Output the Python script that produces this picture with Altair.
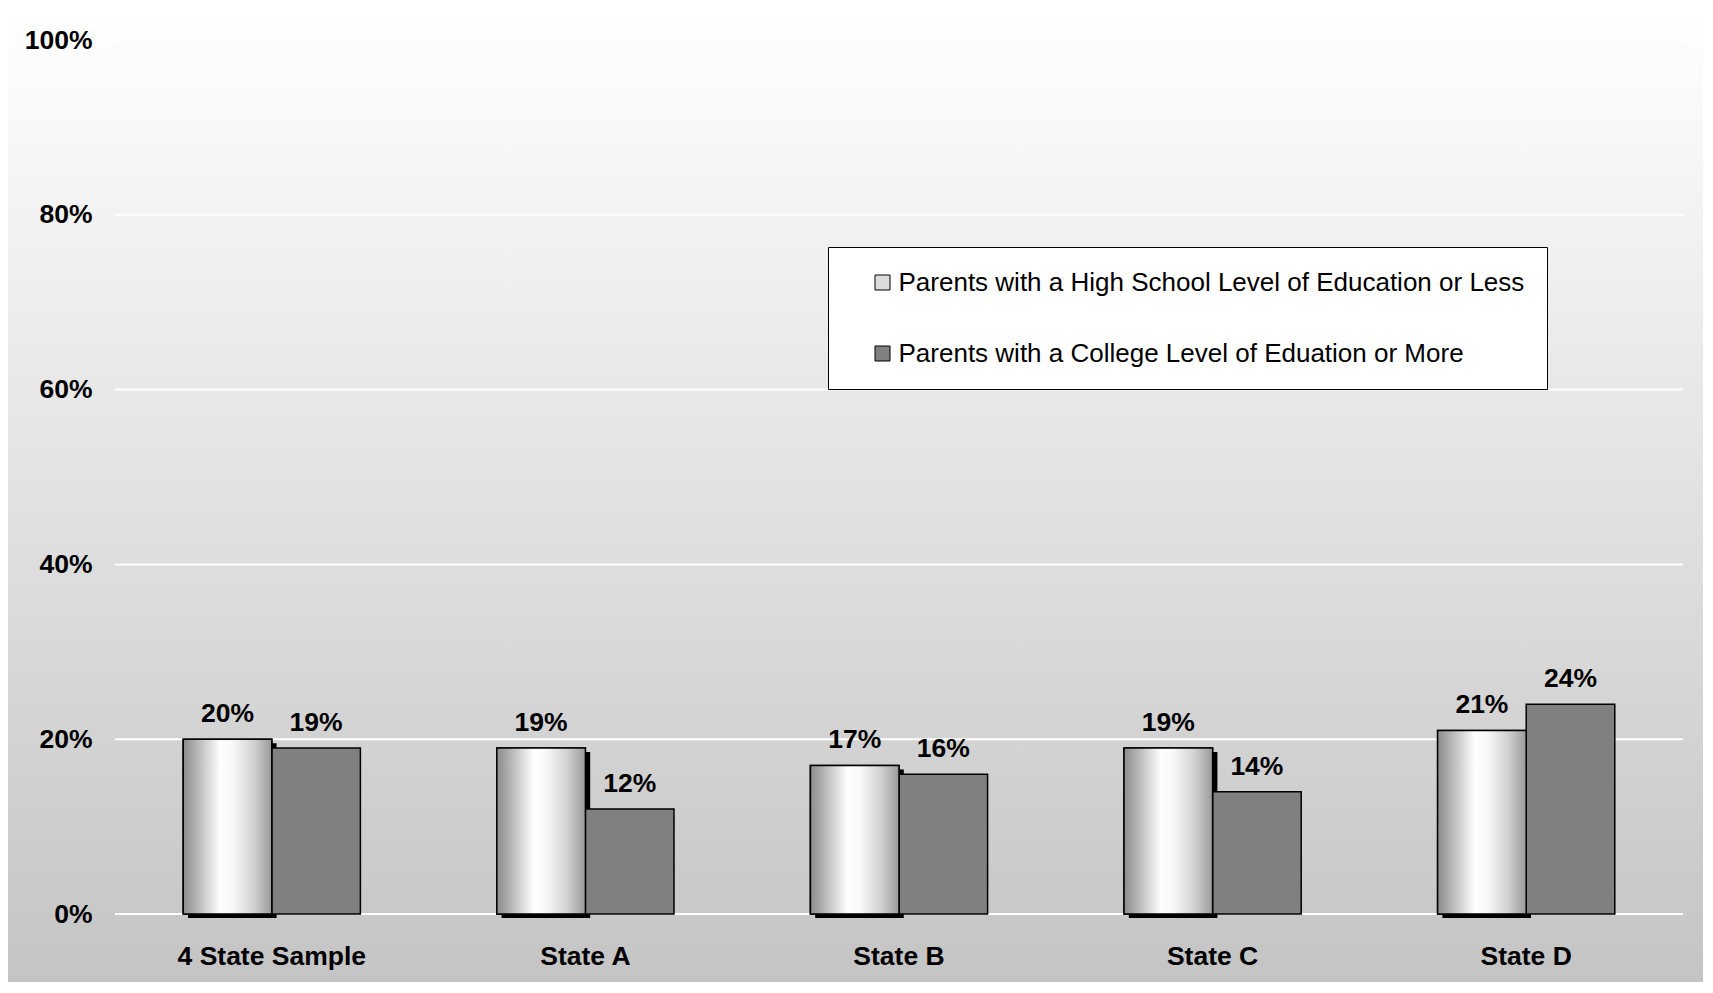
import altair as alt
import pandas as pd

categories = ["4 State Sample", "State A", "State B", "State C", "State D"]
series = [
    "Parents with a High School Level of Education or Less",
    "Parents with a College Level of Eduation or More",
]
high_school = [20, 19, 17, 19, 21]
college = [19, 12, 16, 14, 24]
y_ticks = [0, 20, 40, 60, 80, 100]

rows = []
for c, h, k in zip(categories, high_school, college):
    rows.append({"category": c, "series": series[0], "value": h})
    rows.append({"category": c, "series": series[1], "value": k})
df = pd.DataFrame(rows)

FONT = "Liberation Sans, Arial, sans-serif"
W, H = 1568, 874
PAD = {"left": 107, "top": 32, "right": 20, "bottom": 68}

x_enc = alt.X(
    "category:N",
    sort=categories,
    scale=alt.Scale(paddingInner=0.435, paddingOuter=0.2175),
    axis=alt.Axis(
        title=None, labelAngle=0, labelFont=FONT, labelFontSize=26.5,
        labelFontWeight="bold", labelColor="black", labelPadding=29,
        labelLimit=500, domain=False, ticks=False, grid=False, zindex=1,
    ),
)
xoff = alt.XOffset(
    "series:N", sort=series,
    scale=alt.Scale(domain=series, paddingInner=0, paddingOuter=0),
)
y_enc = alt.Y(
    "value:Q",
    scale=alt.Scale(domain=[0, 100], nice=False),
    axis=alt.Axis(
        title=None, values=y_ticks, labelExpr="datum.value + '%'",
        labelFont=FONT, labelFontSize=26.5, labelFontWeight="bold",
        labelColor="black", labelPadding=23, domain=False, ticks=False,
        grid=False, zindex=1,
    ),
)

bg_gradient = alt.Gradient(
    gradient="linear",
    stops=[alt.GradientStop(color="#ffffff", offset=0),
           alt.GradientStop(color="#c4c4c4", offset=1)],
    x1=0, x2=0, y1=0, y2=1,
)
bar_gradient = alt.Gradient(
    gradient="linear",
    stops=[
        alt.GradientStop(color="#8c8c8c", offset=0),
        alt.GradientStop(color="#ababab", offset=0.12),
        alt.GradientStop(color="#ffffff", offset=0.42),
        alt.GradientStop(color="#f8f8f8", offset=0.56),
        alt.GradientStop(color="#d0d0d0", offset=0.8),
        alt.GradientStop(color="#9a9a9a", offset=1),
    ],
    x1=0, x2=1, y1=0, y2=0,
)

bg = alt.Chart(alt.Data(values=[{}])).mark_rect(fill=bg_gradient).encode(
    x=alt.value(-PAD["left"]), x2=alt.value(W + PAD["right"]),
    y=alt.value(-PAD["top"]), y2=alt.value(H + PAD["bottom"]),
)

grid = alt.Chart(pd.DataFrame({"value": y_ticks})).mark_rule(
    color="white", strokeWidth=2
).encode(y=y_enc)

base = alt.Chart(df)

shadow = base.transform_filter(alt.datum.series == series[0]).mark_bar(
    color="black", width={"band": 0.5}, xOffset=-39.5, yOffset=4
).encode(x=x_enc, y=y_enc)

bars = base.mark_bar(stroke="black", strokeWidth=1.5).encode(
    x=x_enc, xOffset=xoff, y=y_enc,
    fill=alt.Fill(
        "series:N", sort=series,
        scale=alt.Scale(domain=series, range=["#dcdcdc", "#808080"]),
        legend=alt.Legend(
            orient="none", legendX=713, legendY=207,
            title="\u00a0", titleOrient="left", titlePadding=19,
            titleFontSize=26, titleFont=FONT,
            direction="vertical", fillColor="white", strokeColor="black",
            padding=22.5, rowPadding=45, labelOffset=3, labelFontSize=26,
            labelFont=FONT, labelColor="black", labelLimit=1000,
            symbolType="square", symbolSize=225, symbolStrokeColor="black",
            symbolStrokeWidth=1,
        ),
    ),
)

grad = base.transform_filter(alt.datum.series == series[0]).mark_bar(
    fill=bar_gradient, stroke="black", strokeWidth=1.5
).encode(x=x_enc, xOffset=xoff, y=y_enc)

labels = base.transform_calculate(label="datum.value + '%'").mark_text(
    font=FONT, fontSize=26.5, fontWeight="bold", color="black",
    baseline="alphabetic", dy=-17,
).encode(x=x_enc, xOffset=xoff, y=y_enc, text="label:N")

chart = alt.layer(bg, grid, shadow, bars, grad, labels).properties(
    width=W, height=H, padding=PAD,
    autosize=alt.AutoSizeParams(type="none"),
    background="white",
).configure_view(stroke=None)

chart.save("out.html", embed_options={"renderer": "svg", "actions": False})
